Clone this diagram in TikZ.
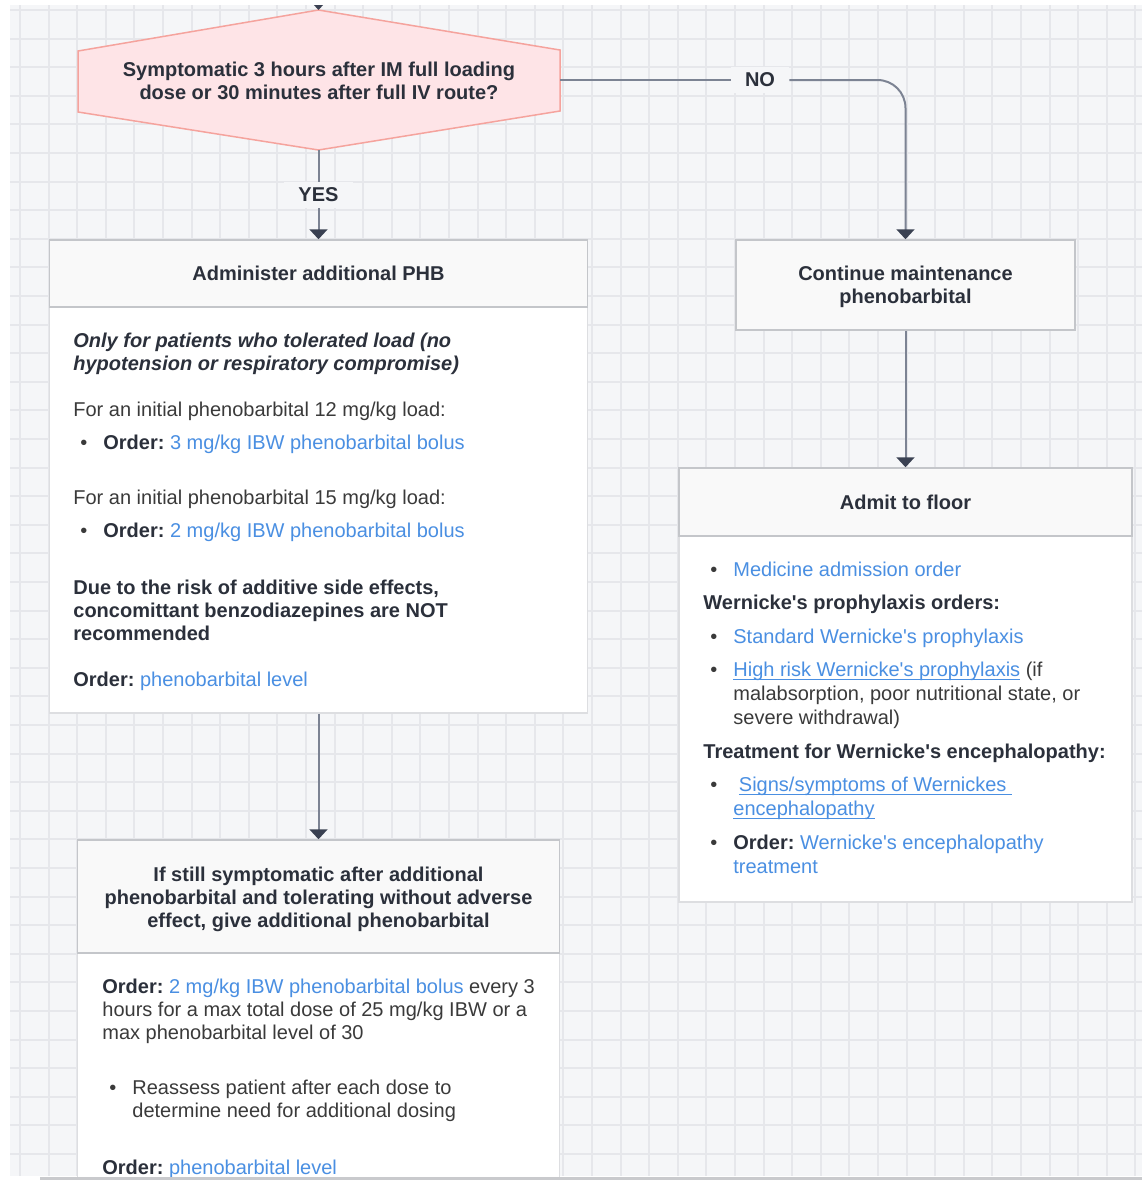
\documentclass[tikz,border=0pt]{standalone}
\usepackage{fontspec}
\setmainfont{Liberation Sans}[Ligatures=TeXOff]
\usetikzlibrary{arrows.meta}

\definecolor{bgcol}{HTML}{F5F6F8}
\definecolor{gridcol}{HTML}{E6E7EB}
\definecolor{linecol}{HTML}{7C8393}
\definecolor{tipcol}{HTML}{3A4152}
\definecolor{boxline}{HTML}{C4C6CA}
\definecolor{bodyline}{HTML}{DDDEE1}
\definecolor{hdrfill}{HTML}{F9F9F9}
\definecolor{hexfill}{HTML}{FEE4E7}
\definecolor{hexline}{HTML}{F5A39D}
\definecolor{txtcol}{HTML}{3A3A3A}
\definecolor{ttlcol}{HTML}{2B303B}
\definecolor{linkcol}{HTML}{4A8FE2}
\definecolor{scrollcol}{HTML}{C9CACD}

\newsavebox{\ulbox}
\newcommand{\lnk}[1]{\textcolor{linkcol}{#1}}
\newcommand{\ulnk}[1]{\textcolor{linkcol}{\sbox{\ulbox}{#1}\rlap{\rule[-1.6pt]{\wd\ulbox}{0.5pt}}\usebox{\ulbox}}}
\newcommand{\ord}{\textcolor{ttlcol}{\textbf{Order:}}}
\newcommand{\bul}{\makebox[15pt][l]{\hspace{3.5pt}\textbullet}}

\tikzset{
  gridline/.style={draw=gridcol, line width=1pt},
  conn/.style={draw=linecol, line width=1pt},
  flow/.style={conn, -{Triangle[width=9pt,length=5pt,color=tipcol]}},
  hdr/.style={draw=boxline, fill=hdrfill, line width=0.75pt, font=\bfseries, text=ttlcol, align=center},
  bodybox/.style={draw=bodyline, fill=white, line width=0.75pt},
  ttl/.style={font=\bfseries, text=ttlcol, align=center, inner sep=0pt},
  txt/.style={anchor=north west, inner sep=0pt, align=left, text=txtcol},
  lbl/.style={fill=bgcol, font=\bfseries, text=ttlcol, inner xsep=7pt, inner ysep=3pt},
}

\begin{document}
\fontsize{10}{11.5}\selectfont
\begin{tikzpicture}[x=0.5pt, y=-0.5pt]
\useasboundingbox (0,0) rectangle (1142,1180);
\begin{scope}
\clip (10,5) rectangle (1142,1176);
\fill[bgcol] (10,5) rectangle (1142,1176);
\foreach \i in {0,...,39} \draw[gridline] ({20+28.6*\i},5) -- ({20+28.6*\i},1176);
\foreach \j in {0,...,40} \draw[gridline] (10,{10+28.6*\j}) -- (1142,{10+28.6*\j});

% decision
\coordinate (dec n) at (318.5,10);
\coordinate (dec e) at (560,80);
\coordinate (dec s) at (318.5,150);
\coordinate (top in) at (318.5,-30);
\draw[draw=hexline, fill=hexfill, line width=0.75pt] (dec n) -- (560,50) -- (560,111) -- (dec s) -- (78,112) -- (78,51) -- cycle;
\node[ttl] (dec) at (319,81) {Symptomatic 3 hours after IM full loading\\dose or 30 minutes after full IV route?};
\draw[flow] (top in) -- (dec n);

% boxes
\node[bodybox, minimum width=269pt, minimum height=203pt] (admbody) at (318.5,510) {};
\node[hdr, minimum width=269pt, minimum height=33.5pt] (adm) at (318.5,273.5) {Administer additional PHB};
\node[hdr, minimum width=169.5pt, minimum height=45pt] (cont) at (905.5,285) {\rule{0pt}{9.4pt}Continue maintenance\\phenobarbital};
\node[bodybox, minimum width=226.5pt, minimum height=183pt] (admitbody) at (905.5,719) {};
\node[hdr, minimum width=226.5pt, minimum height=34pt] (admit) at (905.5,502) {Admit to floor};
\node[bodybox, minimum width=241pt, minimum height=150pt] (stillbody) at (318.5,1103) {};
\node[hdr, minimum width=241pt, minimum height=56.5pt] (still) at (318.5,896.5) {\rule{0pt}{10.3pt}If still symptomatic after additional\\phenobarbital and tolerating without adverse\\effect, give additional phenobarbital};

% labels and connectors
\node[lbl] (yes) at (318.5,195) {YES};
\node[lbl] (no) at (760,80) {NO};
\draw[conn] (dec s) -- (yes);
\draw[flow] (yes) -- (adm);
\draw[conn] (dec e) -- (no);
\draw[flow, rounded corners=14pt] (no) -| (cont);
\draw[flow] (cont) -- (admit);
\draw[flow] (admbody) -- (still);

% text of administer box
\node[txt, font=\bfseries\itshape, text=ttlcol] (tol) at (73,331) {\strut Only for patients who tolerated load (no\\hypotension or respiratory compromise)};
\node[txt] (load12) at (73,400) {\strut For an initial phenobarbital 12 mg/kg load:\\[5pt]\bul\ord\ \lnk{3 mg/kg IBW phenobarbital bolus}};
\node[txt] (load15) at (73,488) {\strut For an initial phenobarbital 15 mg/kg load:\\[5pt]\bul\ord\ \lnk{2 mg/kg IBW phenobarbital bolus}};
\node[txt, font=\bfseries, text=ttlcol] (benzo) at (73,578) {\strut Due to the risk of additive side effects,\\concomittant benzodiazepines are NOT\\recommended};
\node[txt] (lvl1) at (73,670) {\strut\ord\ \lnk{phenobarbital level}};

% text of admit box
\node[txt, font=\fontsize{10}{12}\selectfont] (admitlist) at (703,559) {\strut\bul\lnk{Medicine admission order}\\[4.75pt]
\textcolor{ttlcol}{\textbf{Wernicke's prophylaxis orders:}}\\[4.75pt]
\bul\lnk{Standard Wernicke's prophylaxis}\\[4.75pt]
\bul\ulnk{High risk Wernicke's prophylaxis} (if\\
\hspace*{15pt}malabsorption, poor nutritional state, or\\
\hspace*{15pt}severe withdrawal)\\[4.75pt]
\textcolor{ttlcol}{\textbf{Treatment for Wernicke's encephalopathy:}}\\[4.75pt]
\bul\ \ulnk{Signs/symptoms of Wernickes\ }\\
\hspace*{15pt}\ulnk{encephalopathy}\\[4.75pt]
\bul\ord\ \lnk{Wernicke's encephalopathy}\\
\hspace*{15pt}\lnk{treatment}};

% text of last box
\node[txt] (rep) at (102,977) {\strut\ord\ \lnk{2 mg/kg IBW phenobarbital bolus} every 3\\hours for a max total dose of 25 mg/kg IBW or a\\max phenobarbital level of 30};
\node[txt] (reas) at (102,1078) {\strut\bul Reassess patient after each dose to\\\hspace*{15pt}determine need for additional dosing};
\node[txt] (lvl2) at (102,1158) {\strut\ord\ \lnk{phenobarbital level}};
\end{scope}
\draw[draw=scrollcol, line width=1.5pt] (40,1178) -- (1142,1178);
\end{tikzpicture}
\end{document}
